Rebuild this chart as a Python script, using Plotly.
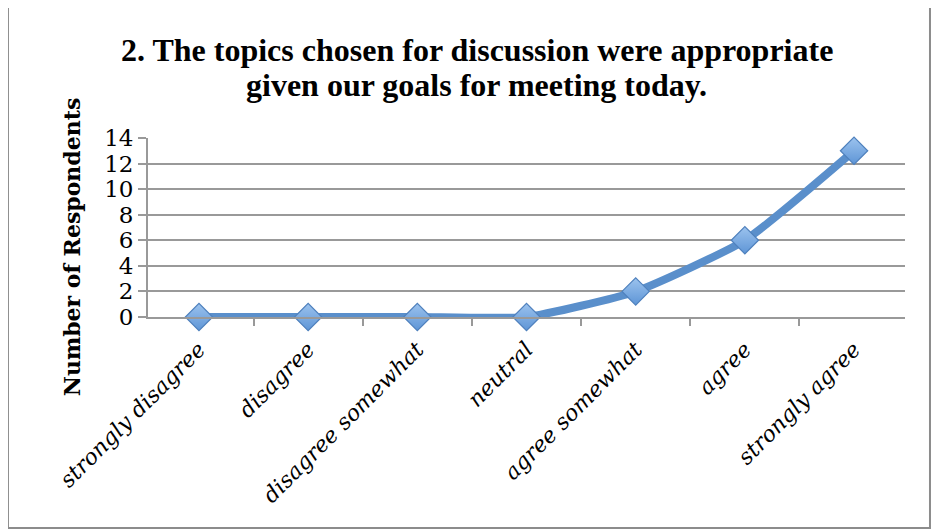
import plotly.graph_objects as go

categories = ["strongly disagree", "disagree", "disagree somewhat", "neutral",
              "agree somewhat", "agree", "strongly agree"]
respondents = [0, 0, 0, 0, 2, 6, 13]
y_ticks = [0, 2, 4, 6, 8, 10, 12, 14]

title_lines = ["2. The topics chosen for discussion were appropriate",
               "given our goals for meeting today."]
y_title = "Number of Respondents"

serif = "Liberation Serif"
serif2 = "DejaVu Serif"
grid = "#999999"

fig = go.Figure()
fig.add_trace(go.Scatter(
    x=categories, y=respondents, mode="lines+markers",
    line=dict(color="#5A8FCB", width=8, shape="spline", smoothing=0.5),
    marker=dict(symbol="diamond", size=21, color="#9CC3EE",
                gradient=dict(type="vertical", color="#5E95D6"),
                line=dict(color="#4F81BD", width=1.2)),
    cliponaxis=False, showlegend=False,
))

title_ann = [dict(text="<b>" + t + "</b>", xref="paper", yref="paper",
                  x=0.4346, y=yy, xanchor="center", yanchor="middle",
                  showarrow=False, font=dict(family=serif, size=32, color="black"))
             for t, yy in zip(title_lines, [1.49, 1.295])]

fig.update_layout(
    width=946, height=531,
    margin=dict(l=140, r=49, t=130, b=222, autoexpand=False),
    paper_bgcolor="white", plot_bgcolor="white",
    xaxis=dict(type="category", tickson="boundaries", ticks="outside",
               ticklen=7, tickcolor=grid, tickwidth=1.8,
               showline=True, linecolor=grid, linewidth=1.8,
               showgrid=False, tickangle=-45, automargin=False,
               ticklabelstandoff=9,
               tickfont=dict(family=serif2, size=22, color="black", style="italic")),
    yaxis=dict(range=[0, 14], tickvals=y_ticks, ticks="outside", ticklen=8,
               tickcolor=grid, tickwidth=1.8, showline=True, linecolor=grid,
               linewidth=1.8, showgrid=True, gridcolor=grid, gridwidth=1.8,
               zeroline=False, automargin=False,
               tickfont=dict(family=serif2, size=23, color="black")),
    annotations=title_ann + [dict(text="<b>" + y_title + "</b>", textangle=-90,
                      xref="paper", yref="paper", x=-0.1004, y=0.39,
                      xanchor="center", yanchor="middle", showarrow=False,
                      font=dict(family=serif2, size=22, color="black"))],
    shapes=[dict(type="rect", xref="paper", yref="paper",
                 x0=-0.185, x1=1.033, y0=-1.179, y1=1.754,
                 line=dict(color="#8C8C8C", width=2), layer="below")],
)

fig.write_html("out.html")
